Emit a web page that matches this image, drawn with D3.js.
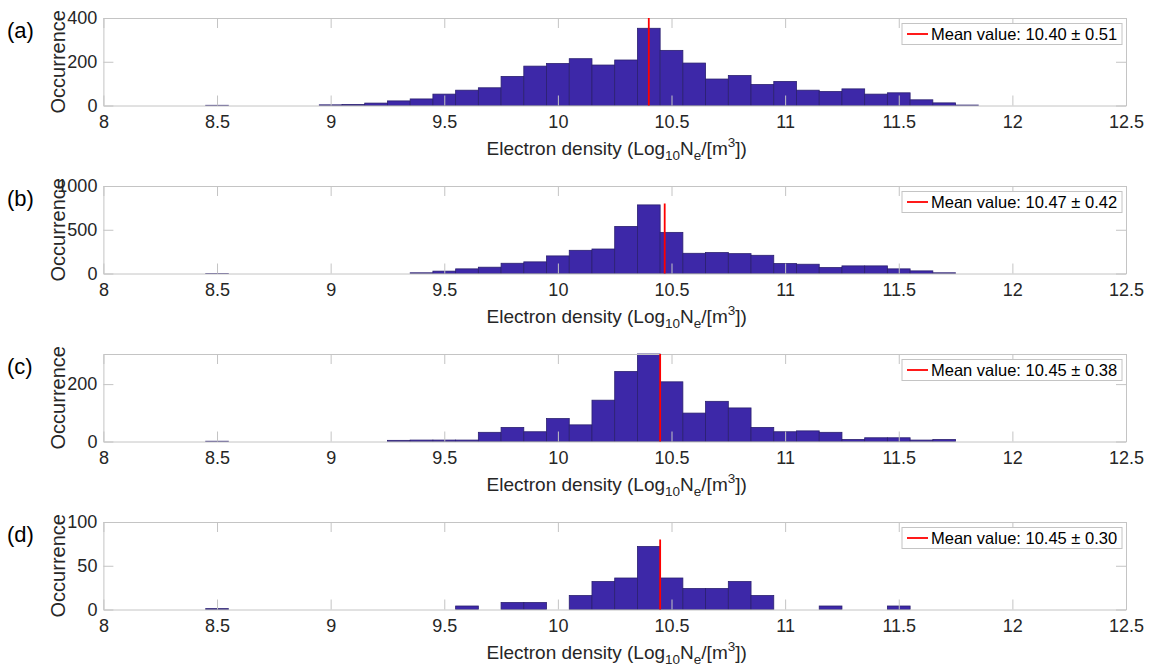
<!DOCTYPE html>
<html>
<head>
<meta charset="utf-8">
<script src="https://cdn.jsdelivr.net/npm/d3@7/dist/d3.min.js"></script>
<style>
  body { margin: 0; background: #fff; }
  svg { font-family: "Liberation Sans", Arial, Helvetica, sans-serif; }
</style>
</head>
<body>
<div id="chart"></div>
<script>
// bin centres (bin width 0.1, Log10 Ne)
var binCenters = [8.5, 8.6, 8.7, 8.8, 8.9, 9.0, 9.1, 9.2, 9.3, 9.4,
                  9.5, 9.6, 9.7, 9.8, 9.9, 10.0, 10.1, 10.2, 10.3, 10.4,
                  10.5, 10.6, 10.7, 10.8, 10.9, 11.0, 11.1, 11.2, 11.3, 11.4,
                  11.5, 11.6, 11.7, 11.8, 11.9];
var binWidth = 0.1;

// occurrence counts per panel
var countsA = [1, 0, 0, 0, 0, 3, 5, 11, 21, 30, 52, 70, 81, 133, 180, 192, 214, 185, 208, 353,
               252, 194, 121, 137, 96, 110, 70, 64, 76, 52, 58, 26, 12, 2, 0];
var countsB = [1, 0, 0, 0, 0, 0, 0, 0, 0, 8, 27, 53, 72, 117, 133, 201, 265, 280, 538, 784,
               470, 231, 239, 227, 208, 114, 106, 68, 87, 87, 53, 30, 8, 0, 0];
var countsC = [1, 0, 0, 0, 0, 0, 0, 0, 4, 5, 5, 5, 32, 49, 34, 80, 58, 144, 244, 305,
               208, 99, 140, 117, 49, 34, 37, 32, 7, 13, 13, 5, 7, 0, 0];
var countsD = [1, 0, 0, 0, 0, 0, 0, 0, 0, 0, 0, 4, 0, 8, 8, 0, 16, 32, 36, 72,
               36, 24, 24, 32, 16, 0, 0, 4, 0, 0, 4, 0, 0, 0, 0];

var panelLabels = ["(a)", "(b)", "(c)", "(d)"];
var meanValues = [10.40, 10.47, 10.45, 10.45];
var stdValues = [0.51, 0.42, 0.38, 0.30];
var meanLineTops = [400, 800, 305, 80];
var yMaxes = [400, 1000, 305, 100];
var yTicks = [[0, 200, 400], [0, 500, 1000], [0, 200], [0, 50, 100]];
var xTicks = [8, 8.5, 9, 9.5, 10, 10.5, 11, 11.5, 12, 12.5];
var allCounts = [countsA, countsB, countsC, countsD];

// layout
var svgWidth = 1150;
var svgHeight = 671;
var plotLeft = 103.4;
var plotRight = 1126;
var plotHeight = 87.5;
var panelTops = [18, 186, 354, 522];

var svg = d3.select("#chart").append("svg")
    .attr("width", svgWidth)
    .attr("height", svgHeight);

var xScale = d3.scaleLinear()
    .domain([8, 12.5])
    .range([plotLeft, plotRight]);

var axisColor = "#c4c4c4";
var textColor = "#262626";

panelLabels.forEach(function (label, i) {
    var top = panelTops[i];
    var bottom = top + plotHeight;
    var counts = allCounts[i];

    var yScale = d3.scaleLinear()
        .domain([0, yMaxes[i]])
        .range([bottom, top]);

    var g = svg.append("g");

    // bars
    g.selectAll("rect.bar")
        .data(binCenters.map(function (c, k) { return { c: c, n: counts[k] }; })
            .filter(function (d) { return d.n > 0; }))
        .enter()
        .append("rect")
        .attr("class", "bar")
        .attr("x", function (d) { return xScale(d.c - binWidth / 2); })
        .attr("width", function (d) { return xScale(d.c + binWidth / 2) - xScale(d.c - binWidth / 2); })
        .attr("y", function (d) { return yScale(Math.min(d.n, yMaxes[i])); })
        .attr("height", function (d) { return bottom - yScale(Math.min(d.n, yMaxes[i])); })
        .attr("fill", "#3d28a8")
        .attr("stroke", "#2b2070")
        .attr("stroke-width", 0.8);

    // axes (box with inward ticks)
    var xAxisB = d3.axisBottom(xScale).tickValues(xTicks).tickSizeInner(-10).tickSizeOuter(0).tickPadding(10)
        .tickFormat(function (d) { return String(d); });
    var xAxisT = d3.axisTop(xScale).tickValues(xTicks).tickSizeInner(-10).tickSizeOuter(0).tickFormat("");
    var yAxisL = d3.axisLeft(yScale).tickValues(yTicks[i]).tickSizeInner(-10).tickSizeOuter(0).tickPadding(6)
        .tickFormat(function (d) { return String(d); });
    var yAxisR = d3.axisRight(yScale).tickValues(yTicks[i]).tickSizeInner(-10).tickSizeOuter(0).tickFormat("");

    [
        { ax: xAxisB, t: "translate(0," + bottom + ")" },
        { ax: xAxisT, t: "translate(0," + top + ")" },
        { ax: yAxisL, t: "translate(" + plotLeft + ",0)" },
        { ax: yAxisR, t: "translate(" + plotRight + ",0)" }
    ].forEach(function (a) {
        var ag = g.append("g").attr("transform", a.t).call(a.ax);
        ag.selectAll("path.domain").attr("stroke", axisColor);
        ag.selectAll(".tick line").attr("stroke", axisColor);
        ag.selectAll(".tick text").attr("fill", textColor).style("font-size", "18px");
    });

    // mean line
    g.append("line")
        .attr("x1", xScale(meanValues[i]))
        .attr("x2", xScale(meanValues[i]))
        .attr("y1", yScale(0))
        .attr("y2", yScale(meanLineTops[i]))
        .attr("stroke", "#ff0000")
        .attr("stroke-width", 1.8);

    // legend
    var lg = g.append("g").attr("transform", "translate(902," + (top + 5.5) + ")");
    lg.append("rect")
        .attr("width", 220).attr("height", 21)
        .attr("fill", "#fff").attr("stroke", axisColor);
    lg.append("line")
        .attr("x1", 5).attr("x2", 26).attr("y1", 10.5).attr("y2", 10.5)
        .attr("stroke", "#ff0000").attr("stroke-width", 1.8);
    lg.append("text")
        .attr("x", 29).attr("y", 16.5)
        .attr("fill", "#000")
        .style("font-size", "16.5px")
        .text("Mean value: " + meanValues[i].toFixed(2) + " \u00b1 " + stdValues[i].toFixed(2));

    // x label
    var xl = g.append("text")
        .attr("x", (plotLeft + plotRight) / 2 + 2)
        .attr("y", bottom + 49)
        .attr("text-anchor", "middle")
        .attr("fill", textColor)
        .style("font-size", "19px");
    xl.append("tspan").text("Electron density (Log");
    xl.append("tspan").attr("dy", 5).style("font-size", "13.5px").text("10");
    xl.append("tspan").attr("dy", -5).text("N");
    xl.append("tspan").attr("dy", 5).style("font-size", "13.5px").text("e");
    xl.append("tspan").attr("dy", -5).text("/[m");
    xl.append("tspan").attr("dy", -8).style("font-size", "13.5px").text("3");
    xl.append("tspan").attr("dy", 8).text("])");

    // y label
    g.append("text")
        .attr("transform", "translate(65," + (top + plotHeight / 2) + ") rotate(-90)")
        .attr("text-anchor", "middle")
        .attr("fill", textColor)
        .style("font-size", "20px")
        .text("Occurrence");

    // panel label
    g.append("text")
        .attr("x", 7)
        .attr("y", top + 19.5)
        .attr("fill", "#000")
        .style("font-size", "22px")
        .text(label);
});
</script>
</body>
</html>
